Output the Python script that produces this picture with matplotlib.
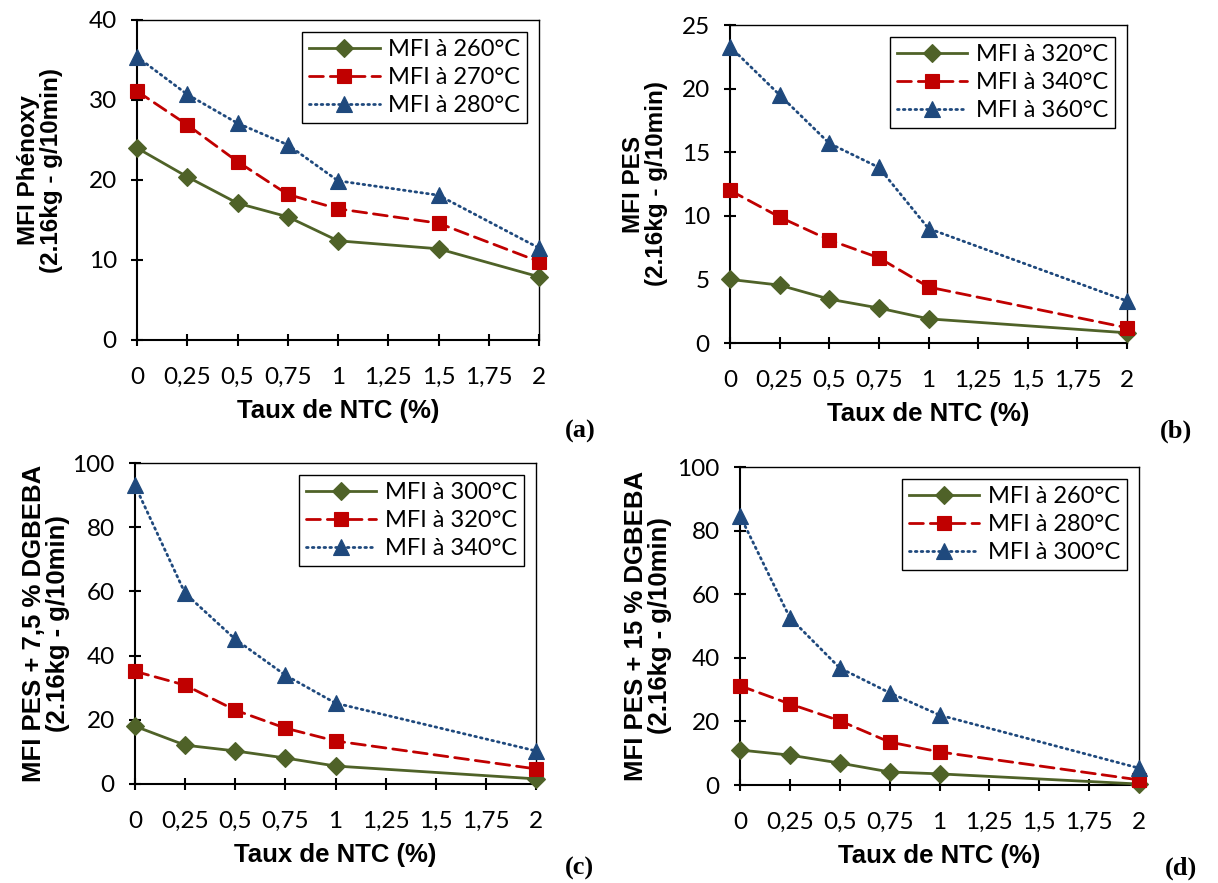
import matplotlib
matplotlib.use("Agg")
import matplotlib.pyplot as plt


W, H = 1218, 883

GREEN = "#4F6228"
RED = "#C00000"
BLUE = "#1F497D"

TICK_FONT = "Lato"
LABEL_FONT = "Liberation Sans"
PANEL_FONT = "Liberation Serif"

X_TICKS = [0, 0.25, 0.5, 0.75, 1, 1.25, 1.5, 1.75, 2]
X_TICK_LABELS = ["0", "0,25", "0,5", "0,75", "1", "1,25", "1,5", "1,75", "2"]

# (a) Phénoxy
a_x = [0, 0.25, 0.5, 0.75, 1, 1.5, 2]
a_260 = [24.0, 20.4, 17.1, 15.4, 12.4, 11.4, 7.9]
a_270 = [31.1, 26.9, 22.3, 18.2, 16.4, 14.6, 9.8]
a_280 = [35.4, 30.7, 27.1, 24.4, 19.9, 18.1, 11.5]
a_legend = ["MFI à 260°C", "MFI à 270°C", "MFI à 280°C"]

# (b) PES
b_x = [0, 0.25, 0.5, 0.75, 1, 2]
b_320 = [5.0, 4.55, 3.45, 2.75, 1.9, 0.8]
b_340 = [12.0, 9.9, 8.1, 6.7, 4.4, 1.2]
b_360 = [23.3, 19.5, 15.7, 13.8, 9.0, 3.3]
b_legend = ["MFI à 320°C", "MFI à 340°C", "MFI à 360°C"]

# (c) PES + 7,5 % DGBEBA
c_x = [0, 0.25, 0.5, 0.75, 1, 2]
c_300 = [18.0, 12.1, 10.3, 8.1, 5.6, 1.6]
c_320 = [35.1, 30.8, 23.0, 17.4, 13.4, 4.7]
c_340 = [93.0, 59.4, 45.1, 33.9, 25.2, 10.3]
c_legend = ["MFI à 300°C", "MFI à 320°C", "MFI à 340°C"]

# (d) PES + 15 % DGBEBA
d_x = [0, 0.25, 0.5, 0.75, 1, 2]
d_260 = [11.0, 9.4, 6.9, 4.1, 3.5, 0.3]
d_280 = [31.2, 25.5, 20.2, 13.5, 10.4, 1.6]
d_300 = [84.7, 52.6, 36.8, 29.0, 22.0, 5.3]
d_legend = ["MFI à 260°C", "MFI à 280°C", "MFI à 300°C"]


def px_axes(fig, left, top, right, bottom):
    return fig.add_axes([left / W, 1 - bottom / H, (right - left) / W, (bottom - top) / H])


def draw_panel(ax, x, series, labels, ymax, ystep, ylabel, ylabel_pos, ylabel_size):
    styles = [
        dict(color=GREEN, linestyle="-", marker="D", markersize=9),
        dict(color=RED, linestyle=(0, (5, 2.5)), marker="s", markersize=10.5),
        dict(color=BLUE, linestyle=(0, (0.6, 1.5)), marker="^", markersize=11),
    ]
    for y, lab, st in zip(series, labels, styles):
        line, = ax.plot(x, y, linewidth=2.0, label=lab, clip_on=False,
                        markeredgewidth=0.8, markeredgecolor=st["color"], zorder=3, **st)
        line.set_dash_capstyle("round")

    ax.set_xlim(0, 2)
    ax.set_ylim(0, ymax)
    ax.set_xticks(X_TICKS)
    ax.set_xticklabels(X_TICK_LABELS)
    ax.set_yticks([i * ystep for i in range(int(round(ymax / ystep)) + 1)])
    ax.tick_params(direction="inout", length=9, width=1.5, labelsize=17.5)
    ax.tick_params(axis="x", pad=15)
    ax.tick_params(axis="y", pad=10)
    for t in ax.get_xticklabels() + ax.get_yticklabels():
        t.set_family(TICK_FONT)
    for s in ax.spines.values():
        s.set_linewidth(1.5)
    ax.spines["top"].set_linewidth(1.0)
    ax.spines["right"].set_linewidth(1.0)

    ax.set_xlabel("Taux de NTC (%)", fontsize=18.5, fontweight="bold", family=LABEL_FONT,
                  labelpad=8)
    ax.set_ylabel(ylabel, fontsize=ylabel_size, fontweight="bold", family=LABEL_FONT,
                  linespacing=1.0)
    ax.yaxis.set_label_coords(*ylabel_pos)

    leg = ax.legend(loc="upper right", fancybox=False, edgecolor="black", framealpha=1,
                    prop={"family": TICK_FONT, "size": 17}, handlelength=3.0,
                    borderpad=0.3, labelspacing=0.3, handletextpad=0.35,
                    borderaxespad=0.5)
    leg.get_frame().set_linewidth(1.0)


def main() -> None:
    fig = plt.figure(figsize=(W / 100, H / 100), dpi=100)

    ax_a = px_axes(fig, 137, 20, 539, 340)
    ax_b = px_axes(fig, 730, 25, 1127, 343)
    ax_c = px_axes(fig, 135, 463, 536, 784)
    ax_d = px_axes(fig, 740, 467, 1139, 785)

    draw_panel(ax_a, a_x, [a_260, a_270, a_280], a_legend, 40, 10,
               "MFI Phénoxy\n(2.16kg - g/10min)", (-0.185, 0.53), 17.5)
    draw_panel(ax_b, b_x, [b_320, b_340, b_360], b_legend, 25, 5,
               "MFI PES\n(2.16kg - g/10min)", (-0.155, 0.5), 17.5)
    draw_panel(ax_c, c_x, [c_300, c_320, c_340], c_legend, 100, 20,
               "MFI PES + 7,5 % DGBEBA\n(2.16kg - g/10min)", (-0.162, 0.5), 18.5)
    draw_panel(ax_d, d_x, [d_260, d_280, d_300], d_legend, 100, 20,
               "MFI PES + 15 % DGBEBA\n(2.16kg - g/10min)", (-0.17, 0.5), 18.5)

    for label, px, py in [("(a)", 565, 431), ("(b)", 1160, 431),
                          ("(c)", 565, 868), ("(d)", 1165, 868)]:
        fig.text(px / W, 1 - py / H, label, fontsize=19, fontweight="bold",
                 family=PANEL_FONT, ha="left", va="center")

    fig.savefig("out.png", dpi=100)
    plt.close(fig)


if __name__ == "__main__":
    main()
